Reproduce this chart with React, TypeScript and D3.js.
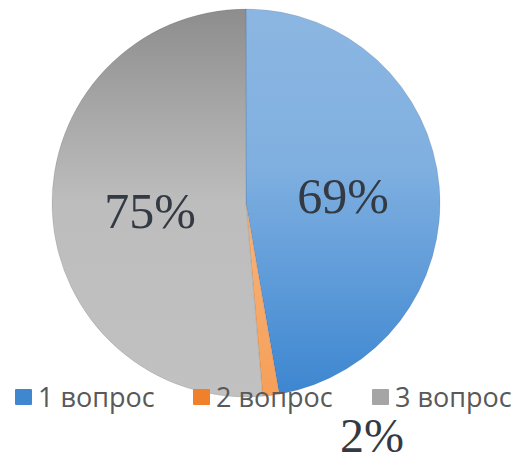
import React from "react";
import * as d3 from "d3";

const categories = ["1 вопрос", "2 вопрос", "3 вопрос"];
const values = [69, 2, 75];
const labels = ["69%", "2%", "75%"];

const W = 517;
const H = 464;
const cx = 246;
const cy = 203;
const R = 194;

export default function App() {
  const pie = d3.pie<number>().sort(null).value((d) => d)(values);
  const arc = d3.arc<d3.PieArcDatum<number>>().innerRadius(0).outerRadius(R);
  const fills = ["url(#gBlue)", "url(#gOrange)", "url(#gGrey)"];
  const swatch = ["#3f88d0", "#f0802a", "#a5a5a5"];
  const labelPos: [number, number][] = [
    [343, 213],
    [372, 452],
    [150, 228],
  ];
  const labelSize = [50, 48, 50];
  const legendX = [15, 193, 372];
  return (
    <svg
      width={W}
      height={H}
      style={{ position: "absolute", left: 0, top: 0, background: "#fff" }}
    >
      <defs>
        <linearGradient id="gBlue" gradientUnits="userSpaceOnUse" x1="0" y1={-R} x2="0" y2={R}>
          <stop offset="0" stopColor="#8cb6e2" />
          <stop offset="0.4" stopColor="#80b0e0" />
          <stop offset="0.7" stopColor="#5e9bd9" />
          <stop offset="1" stopColor="#3c86d0" />
        </linearGradient>
        <linearGradient id="gOrange" gradientUnits="userSpaceOnUse" x1="0" y1={0} x2="0" y2={R}>
          <stop offset="0" stopColor="#f6b47c" />
          <stop offset="1" stopColor="#f69f58" />
        </linearGradient>
        <linearGradient id="gGrey" gradientUnits="userSpaceOnUse" x1="0" y1={-R} x2="0" y2={R}>
          <stop offset="0" stopColor="#8d8d8d" />
          <stop offset="0.25" stopColor="#a6a6a6" />
          <stop offset="0.5" stopColor="#bdbdbd" />
          <stop offset="1" stopColor="#c1c1c1" />
        </linearGradient>
      </defs>
      <g transform={`translate(${cx},${cy})`}>
        {pie.map((p, i) => (
          <path
            key={i}
            d={arc(p) || ""}
            fill={fills[i]}
            stroke="rgba(0,0,0,0.12)"
            strokeWidth={0.8}
          />
        ))}
      </g>
      {labels.map((t, i) => (
        <text
          key={t}
          x={labelPos[i][0]}
          y={labelPos[i][1]}
          textAnchor="middle"
          fontFamily="'Liberation Serif', 'DejaVu Serif', serif"
          fontSize={labelSize[i]}
          fill="#333a44"
        >
          {t}
        </text>
      ))}
      {categories.map((c, i) => (
        <g key={c}>
          <rect x={legendX[i]} y={389} width={17} height={16} fill={swatch[i]} rx={1} />
          <text
            x={legendX[i] + 23}
            y={407}
            fontFamily="'Open Sans', 'Noto Sans', sans-serif"
            fontSize={27}
            fill="#595959"
          >
            {c}
          </text>
        </g>
      ))}
    </svg>
  );
}
